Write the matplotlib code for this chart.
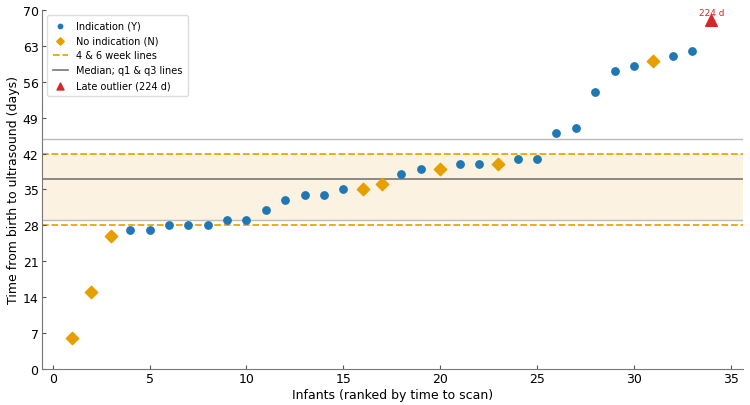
import numpy as np
import matplotlib
matplotlib.use("Agg")
import matplotlib.pyplot as plt

rank = list(range(1, 34))
days = [6, 15, 26, 27, 27, 28, 28, 28, 29, 29, 31, 33, 34, 34, 35, 35, 36,
        38, 39, 39, 40, 40, 40, 41, 41, 46, 47, 54, 58, 59, 60, 61, 62]
indication = ["N", "N", "N", "Y", "Y", "Y", "Y", "Y", "Y", "Y", "Y", "Y", "Y", "Y", "Y", "N", "N",
              "Y", "Y", "N", "Y", "Y", "N", "Y", "Y", "Y", "Y", "Y", "Y", "Y", "N", "Y", "Y"]
outlier_rank = 34
outlier_days = 224
outlier_plot_y = 68

all_days = np.array(days + [outlier_days])
q1, med, q3 = np.percentile(all_days, [25, 50, 75])

fig, ax = plt.subplots(figsize=(7.5, 4.06), dpi=100)
fig.subplots_adjust(left=0.056, right=0.99, bottom=0.089, top=0.973)

ax.axhspan(q1, 42, color="#fbf2e1", zorder=0)
ax.axhline(28, color="#f0a500", ls="--", lw=1.3, label="4 & 6 week lines", zorder=1)
ax.axhline(42, color="#f0a500", ls="--", lw=1.3, zorder=1)
ax.axhline(med, color="#777777", lw=1.2, label="Median; q1 & q3 lines", zorder=1)
ax.axhline(q1, color="#bbbbbb", lw=1.0, zorder=1)
ax.axhline(q3, color="#bbbbbb", lw=1.0, zorder=1)

r = np.array(rank); d = np.array(days); ind = np.array(indication)
ax.scatter(r[ind == "Y"], d[ind == "Y"], color="#1f77b4", s=28, zorder=3, label="Indication (Y)")
ax.scatter(r[ind == "N"], d[ind == "N"], color="#e69f00", marker="D", s=40, zorder=3, label="No indication (N)")
ax.scatter([outlier_rank], [outlier_plot_y], color="#d62728", marker="^", s=70, zorder=3, label="Late outlier (224 d)")
ax.text(outlier_rank, outlier_plot_y + 0.6, f"{outlier_days} d", color="#d62728", fontsize=6.5, ha="center", va="bottom")

handles, labels = ax.get_legend_handles_labels()
order = [labels.index(l) for l in ["Indication (Y)", "No indication (N)", "4 & 6 week lines",
                                    "Median; q1 & q3 lines", "Late outlier (224 d)"]]
leg = ax.legend([handles[i] for i in order], [labels[i] for i in order], loc="upper left",
                fontsize=7, markerscale=0.6, framealpha=1, edgecolor="#dddddd", borderpad=0.6,
                handlelength=1.6, labelspacing=0.5)

ax.set_xlim(-0.55, 35.6)
ax.set_ylim(0, 70)
ax.set_yticks(range(0, 71, 7))
ax.set_xticks(range(0, 36, 5))
ax.tick_params(direction="in", length=3, color="#555555", labelsize=9, pad=2.5)
for s in ["top", "right"]:
    ax.spines[s].set_visible(False)
for s in ["left", "bottom"]:
    ax.spines[s].set_color("#777777")
ax.set_xlabel("Infants (ranked by time to scan)", fontsize=9, labelpad=2)
ax.set_ylabel("Time from birth to ultrasound (days)", fontsize=9, labelpad=2)

fig.savefig("out.png", dpi=100)
